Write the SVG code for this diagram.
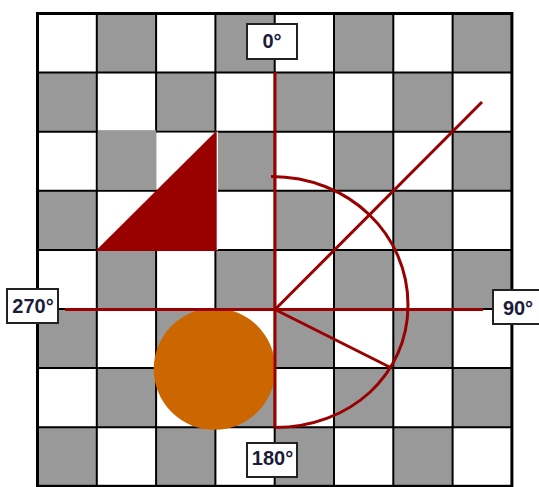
<svg xmlns="http://www.w3.org/2000/svg" width="539" height="487" viewBox="0 0 539 487">
<style>
.g{fill:#999999}
.gl{fill:none;stroke:#000;stroke-width:2}
.red{fill:none;stroke:#990000;stroke-width:3;stroke-linecap:butt}
.box{fill:#fff;stroke:#222;stroke-width:2}
.lbl{font-family:"Liberation Sans",Arial,sans-serif;font-weight:bold;font-size:20px;fill:#1c1c3a;text-anchor:middle}
</style>
<rect x="0" y="0" width="539" height="487" fill="#fff"/>
<g id="board">
<rect x="37.5" y="13.5" width="474.4" height="472.8" fill="#fff"/>
<g class="g">
<rect x="96.8" y="13.5" width="59.3" height="59.1"/><rect x="215.4" y="13.5" width="59.3" height="59.1"/><rect x="334" y="13.5" width="59.3" height="59.1"/><rect x="452.6" y="13.5" width="59.3" height="59.1"/>
<rect x="37.5" y="72.6" width="59.3" height="59.1"/><rect x="156.1" y="72.6" width="59.3" height="59.1"/><rect x="274.7" y="72.6" width="59.3" height="59.1"/><rect x="393.3" y="72.6" width="59.3" height="59.1"/>
<rect x="96.8" y="131.7" width="59.3" height="59.1"/><rect x="215.4" y="131.7" width="59.3" height="59.1"/><rect x="334" y="131.7" width="59.3" height="59.1"/><rect x="452.6" y="131.7" width="59.3" height="59.1"/>
<rect x="37.5" y="190.8" width="59.3" height="59.1"/><rect x="156.1" y="190.8" width="59.3" height="59.1"/><rect x="274.7" y="190.8" width="59.3" height="59.1"/><rect x="393.3" y="190.8" width="59.3" height="59.1"/>
<rect x="96.8" y="249.9" width="59.3" height="59.1"/><rect x="215.4" y="249.9" width="59.3" height="59.1"/><rect x="334" y="249.9" width="59.3" height="59.1"/><rect x="452.6" y="249.9" width="59.3" height="59.1"/>
<rect x="37.5" y="309" width="59.3" height="59.1"/><rect x="156.1" y="309" width="59.3" height="59.1"/><rect x="274.7" y="309" width="59.3" height="59.1"/><rect x="393.3" y="309" width="59.3" height="59.1"/>
<rect x="96.8" y="368.1" width="59.3" height="59.1"/><rect x="215.4" y="368.1" width="59.3" height="59.1"/><rect x="334" y="368.1" width="59.3" height="59.1"/><rect x="452.6" y="368.1" width="59.3" height="59.1"/>
<rect x="37.5" y="427.2" width="59.3" height="59.1"/><rect x="156.1" y="427.2" width="59.3" height="59.1"/><rect x="274.7" y="427.2" width="59.3" height="59.1"/><rect x="393.3" y="427.2" width="59.3" height="59.1"/>
</g>
<path class="gl" d="M96.8 13.5V486.3M156.1 13.5V486.3M215.4 13.5V486.3M274.7 13.5V486.3M334 13.5V486.3M393.3 13.5V486.3M452.6 13.5V486.3M37.5 72.6H511.9M37.5 131.7H511.9M37.5 190.8H511.9M37.5 249.9H511.9M37.5 309H511.9M37.5 368.1H511.9M37.5 427.2H511.9"/>
<rect x="37.5" y="13.5" width="474.4" height="472.8" fill="none" stroke="#000" stroke-width="3"/>
<rect x="97.8" y="130.4" width="58.4" height="59.4" fill="#999999"/>
<rect x="156.2" y="132.7" width="59" height="57" fill="#fff"/>
<rect x="215.2" y="131.7" width="2.8" height="118.2" fill="#fff"/>
</g>
<g id="triangle">
<polygon points="95.5,250.9 216.7,130.5 216.7,250.9" fill="#990000"/>
</g>
<g id="circle">
<circle cx="214.5" cy="369" r="60.8" fill="#CC6600"/>
</g>
<g id="connectors">
<line class="red" x1="275" y1="72" x2="275" y2="427.5"/>
<line class="red" x1="65" y1="309.5" x2="483" y2="309.5"/>
<line class="red" x1="275" y1="309.5" x2="482" y2="102"/>
<line class="red" x1="275" y1="309.5" x2="390.5" y2="367.5"/>
<path class="red" d="M271 176.5C350 176.5 408 235 408 305C408 375 350 427.5 275 427.5"/>
</g>
<g id="label-0">
<rect class="box" x="247" y="24" width="50" height="35"/>
<text class="lbl" x="272" y="48">0°</text>
</g>
<g id="label-270">
<rect class="box" x="7" y="289" width="51" height="34"/>
<text class="lbl" x="33" y="313">270°</text>
</g>
<g id="label-90">
<rect class="box" x="493" y="290" width="50" height="34"/>
<text class="lbl" x="518" y="315">90°</text>
</g>
<g id="label-180">
<rect class="box" x="247" y="443" width="50" height="34"/>
<text class="lbl" x="272.5" y="465">180°</text>
</g>
</svg>
